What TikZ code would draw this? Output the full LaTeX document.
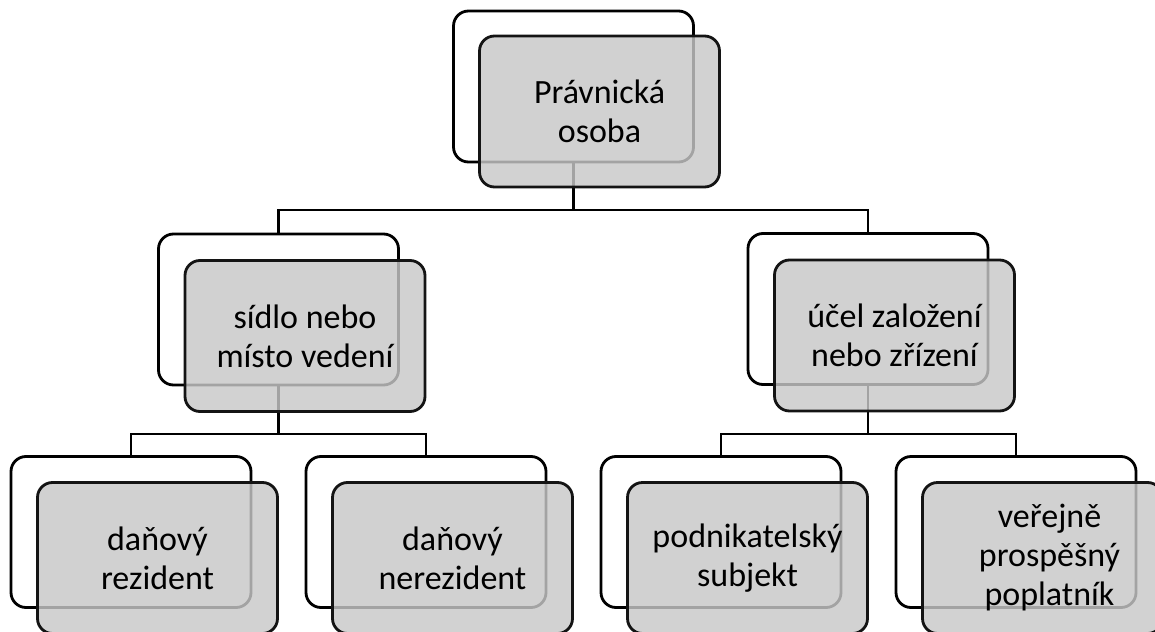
\documentclass[tikz,border=0pt]{standalone}
\usepackage{fontspec}
\setmainfont{Carlito}
\usetikzlibrary{calc}
\definecolor{boxgray}{RGB}{200,200,200}
\definecolor{edgeblack}{RGB}{20,20,20}
\tikzset{
  backbox/.style={draw=black, line width=2.8pt, fill=white, rounded corners=15pt,
    minimum width=240pt, minimum height=151pt, inner sep=0pt},
  frontbox/.style={draw=edgeblack, line width=2.8pt, fill=boxgray, fill opacity=0.82,
    text opacity=1, draw opacity=1, rounded corners=15pt,
    minimum width=240pt, minimum height=151pt, inner sep=0pt, align=center,
    font=\fontsize{34}{39}\selectfont},
  link/.style={draw=black, line width=2.8pt}
}
\begin{document}
\begin{tikzpicture}[x=1pt,y=-1pt]
\useasboundingbox (0,0) rectangle (1155,631);
\clip (0,0) rectangle (1155,631);
% back boxes
\node[backbox] (b0) at (573.5,86.5) {};
\node[backbox] (b1) at (278.5,309.5) {};
\node[backbox] (b2) at (868,309) {};
\node[backbox] (b3) at (131,532) {};
\node[backbox] (b4) at (426,532) {};
\node[backbox] (b5) at (721,532) {};
\node[backbox] (b6) at (1016,532) {};
% junction coordinates
\coordinate (j0) at (573.5,210);
\coordinate (j1) at (278.5,434);
\coordinate (j2) at (868,434);
% connectors
\draw[link] (b0.south) -- (j0);
\draw[link] (b1.north) |- (j0) -| (b2.north);
\draw[link] (b1.south) -- (j1);
\draw[link] (b3.north) |- (j1) -| (b4.north);
\draw[link] (b2.south) -- (j2);
\draw[link] (b5.north) |- (j2) -| (b6.north);
% front boxes
\node[frontbox] (f0) at ($(b0)+(26,25)$) {Právnická\\osoba};
\node[frontbox] (f1) at ($(b1)+(26.5,26.5)$) {sídlo nebo\\místo vedení};
\node[frontbox] (f2) at ($(b2)+(26.5,26.5)$) {účel založení\\nebo zřízení};
\node[frontbox] (f3) at ($(b3)+(26.5,26)$) {daňový\\rezident};
\node[frontbox] (f4) at ($(b4)+(26.5,26)$) {daňový\\nerezident};
\node[frontbox] (f5) at ($(b5)+(26.5,26)$) {podnikatelský\\subjekt};
\node[frontbox] (f6) at ($(b6)+(26.5,26)$) {\hspace*{14pt}veřejně\\\hspace*{14pt}prospěšný\\\hspace*{14pt}poplatník};
\end{tikzpicture}
\end{document}
